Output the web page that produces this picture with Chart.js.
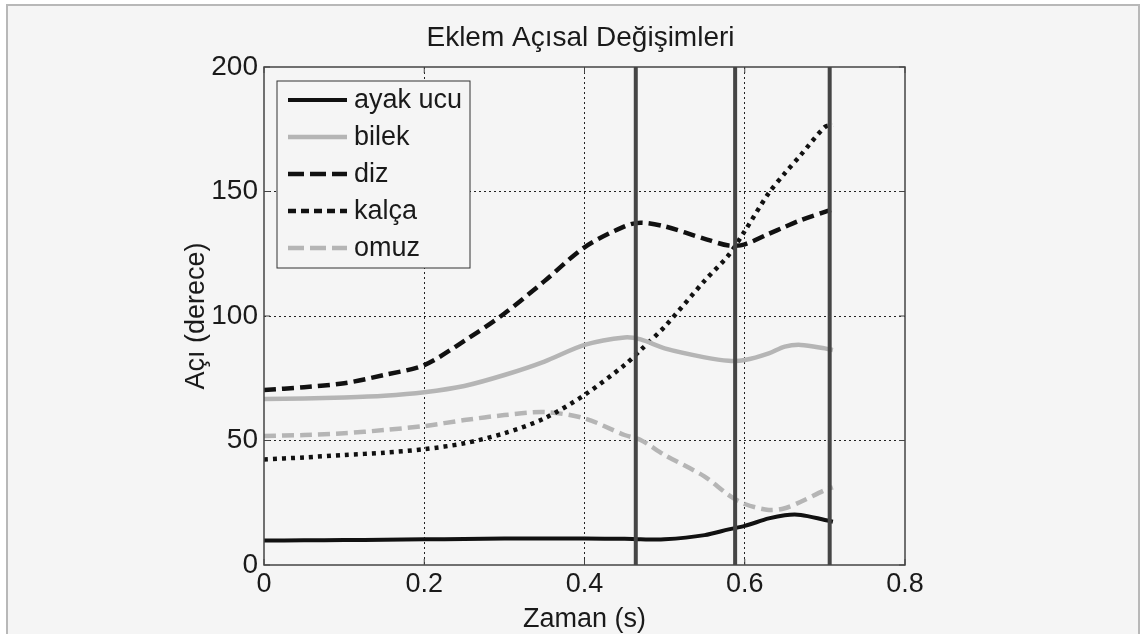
<!DOCTYPE html>
<html>
<head>
<meta charset="utf-8">
<script src="https://cdn.jsdelivr.net/npm/chart.js@4"></script>
<style>
  html, body { margin: 0; background: #fff; }
  #wrap { width: 1142px; height: 634px; }
</style>
</head>
<body>
<div id="wrap"><canvas id="angleChart"></canvas></div>
<script>
// time samples (s) and joint angles (degrees)
const time    = [0, 0.05, 0.1, 0.15, 0.2, 0.25, 0.3, 0.35, 0.4, 0.45, 0.47, 0.5, 0.55, 0.58, 0.6, 0.63, 0.65, 0.67, 0.7, 0.71];
const ayakUcu = [9.8, 9.9, 10, 10.1, 10.3, 10.4, 10.6, 10.6, 10.6, 10.5, 10.3, 10.3, 12, 14.3, 15.7, 18.7, 20, 20.1, 18.1, 17.4];
const bilek   = [66.7, 66.9, 67.3, 68, 69.4, 71.9, 76.3, 81.7, 88.4, 91.4, 90.6, 87, 83.4, 82, 82.3, 85, 87.7, 88.4, 87, 86.3];
const diz     = [70.3, 71.4, 73, 76.3, 80.3, 90, 101, 114, 127.6, 136, 137.5, 136, 131, 128.3, 128.8, 133, 135.8, 138.5, 141.8, 142.8];
const kalca   = [42.4, 43.2, 44.2, 45.1, 46.5, 48.9, 52.9, 58.9, 68.3, 80.3, 86.3, 95.7, 114.2, 124.5, 134.1, 149.4, 157.3, 164.7, 175.9, 176.7];
const omuz    = [51.8, 52.2, 52.9, 54.2, 55.8, 58.2, 60.2, 61.4, 58.9, 52.2, 50.2, 44.2, 35.5, 28.1, 24.5, 22.1, 22.8, 25.4, 30.1, 31.2];

// event markers (s)
const markers = [0.464, 0.588, 0.706];

const xTicks = [0, 0.2, 0.4, 0.6, 0.8];
const xTickLabels = ['0', '0.2', '0.4', '0.6', '0.8'];
const yTicks = [0, 50, 100, 150, 200];
const yTickLabels = ['0', '50', '100', '150', '200'];

const FONT = "'Liberation Sans', Arial, sans-serif";
const ink = '#1a1a1a';

function pts(arr) {
  return time.map((t, i) => ({ x: t, y: arr[i] }));
}

function series(label, arr, color, dash, width) {
  return {
    label, data: pts(arr), borderColor: color, borderWidth: width,
    borderDash: dash, pointRadius: 0, tension: 0.3, order: 1, fill: false
  };
}

const datasets = [
  series('ayak ucu', ayakUcu, '#111', [], 4),
  series('bilek', bilek, '#b5b5b5', [], 4.5),
  series('diz', diz, '#111', [12, 6], 4.5),
  series('kalça', kalca, '#111', [4, 5], 4.5),
  series('omuz', omuz, '#b5b5b5', [12, 6], 4.5)
];

markers.forEach(m => {
  datasets.push({
    label: '', marker: true,
    data: [{ x: m, y: 0 }, { x: m, y: 200 }],
    borderColor: '#454545', borderWidth: 4, pointRadius: 0, order: 0
  });
});

const decor = {
  id: 'decor',
  beforeDraw(chart) {
    const { ctx, width, height } = chart;
    ctx.save();
    ctx.fillStyle = '#fff';
    ctx.fillRect(0, 0, width, height);
    ctx.fillStyle = '#f5f5f5';
    ctx.fillRect(7, 5, 1132, height);
    ctx.strokeStyle = '#b8b8b8';
    ctx.lineWidth = 2;
    ctx.strokeRect(7, 5, 1132, height + 10);
    ctx.restore();
  },
  afterDatasetsDraw(chart) {
    const { ctx, chartArea: a, scales } = chart;
    ctx.save();
    // plot frame
    ctx.strokeStyle = '#444';
    ctx.lineWidth = 1.5;
    ctx.strokeRect(a.left, a.top, a.right - a.left, a.bottom - a.top);
    // inward tick marks
    ctx.lineWidth = 1;
    ctx.beginPath();
    xTicks.forEach(v => {
      const x = scales.x.getPixelForValue(v);
      ctx.moveTo(x, a.bottom); ctx.lineTo(x, a.bottom - 6);
      ctx.moveTo(x, a.top); ctx.lineTo(x, a.top + 6);
    });
    yTicks.forEach(v => {
      const y = scales.y.getPixelForValue(v);
      ctx.moveTo(a.left, y); ctx.lineTo(a.left + 6, y);
      ctx.moveTo(a.right, y); ctx.lineTo(a.right - 6, y);
    });
    ctx.stroke();

    // title
    ctx.fillStyle = ink;
    ctx.font = '28px ' + FONT;
    ctx.textAlign = 'center';
    ctx.textBaseline = 'middle';
    ctx.fillText('Eklem Açısal Değişimleri', (a.left + a.right) / 2 - 4, a.top - 29);

    // legend box
    ctx.font = '27px ' + FONT;
    const bx = a.left + 13, by = a.top + 14;
    ctx.fillStyle = '#f5f5f5';
    ctx.fillRect(bx, by, 193, 187);
    ctx.strokeStyle = '#333';
    ctx.strokeRect(bx, by, 193, 187);
    ctx.textAlign = 'left';
    chart.data.datasets.filter(d => !d.marker).forEach((d, i) => {
      const y = by + 19 + i * 37;
      ctx.strokeStyle = d.borderColor;
      ctx.lineWidth = d.borderWidth;
      ctx.setLineDash(d.borderDash.length ? [d.borderDash[0] + 4, d.borderDash[1]] : []);
      ctx.beginPath();
      ctx.moveTo(bx + 11, y); ctx.lineTo(bx + 70, y);
      ctx.stroke();
      ctx.setLineDash([]);
      ctx.fillStyle = ink;
      ctx.fillText(d.label, bx + 77, y + 1);
    });
    ctx.restore();
  }
};

const gridColor = (ctx, n) => (ctx.index === 0 || ctx.index === n - 1) ? 'rgba(0,0,0,0)' : '#222';

new Chart(document.getElementById('angleChart'), {
  type: 'line',
  data: { datasets },
  plugins: [decor],
  options: {
    responsive: true,
    maintainAspectRatio: false,
    animation: false,
    layout: { padding: { left: 176, right: 237, top: 67, bottom: 0 } },
    plugins: { legend: { display: false }, tooltip: { enabled: false }, title: { display: false } },
    scales: {
      x: {
        type: 'linear', min: 0, max: 0.8,
        afterBuildTicks: s => { s.ticks = xTicks.map(v => ({ value: v })); },
        afterFit: s => { s.height = 69; },
        ticks: {
          color: ink, font: { family: FONT, size: 27 }, padding: 3,
          maxRotation: 0, autoSkip: false,
          callback: v => xTickLabels[xTicks.indexOf(v)]
        },
        grid: { drawTicks: false, lineWidth: 1, color: c => gridColor(c, xTicks.length) },
        border: { display: false, dash: [2, 3] },
        title: { display: true, text: 'Zaman (s)', color: ink, font: { family: FONT, size: 27 }, padding: { top: 0, bottom: -2 } }
      },
      y: {
        min: 0, max: 200,
        afterBuildTicks: s => { s.ticks = yTicks.map(v => ({ value: v })); },
        afterFit: s => { s.width = 88; },
        ticks: {
          color: ink, font: { family: FONT, size: 28 }, padding: 6,
          callback: v => yTickLabels[yTicks.indexOf(v)]
        },
        grid: { drawTicks: false, lineWidth: 1, color: c => gridColor(c, yTicks.length) },
        border: { display: false, dash: [2, 3] },
        title: { display: true, text: 'Açı (derece)', color: ink, font: { family: FONT, size: 27 }, padding: 4 }
      }
    }
  }
});
</script>
</body>
</html>
